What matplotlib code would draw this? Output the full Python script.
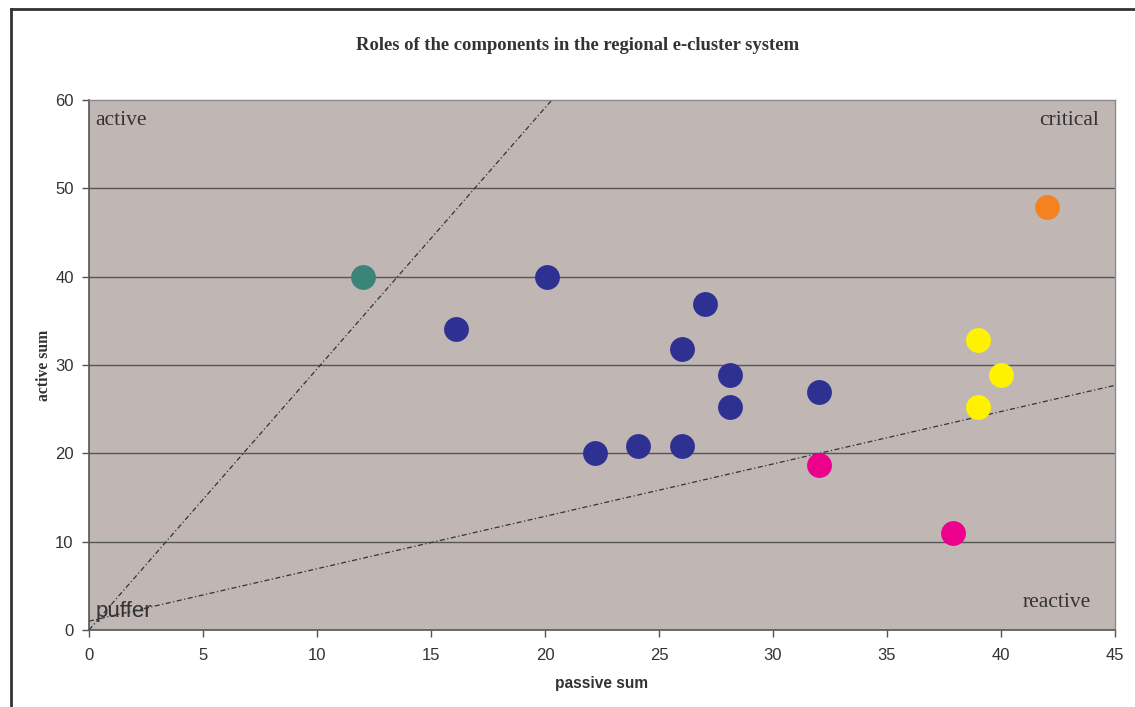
import matplotlib.pyplot as plt
from matplotlib.lines import Line2D

# data
navy_x = [16.1, 20.1, 27.0, 26.0, 28.1, 28.1, 32.0, 22.2, 24.1, 26.0]
navy_y = [34.1, 40.0, 36.9, 31.8, 28.9, 25.3, 26.9, 20.0, 20.8, 20.8]
teal_x = [12.0]
teal_y = [40.0]
pink_x = [32.0, 37.9]
pink_y = [18.7, 11.0]
yellow_x = [39.0, 40.0, 39.0]
yellow_y = [32.8, 28.9, 25.3]
orange_x = [42.0]
orange_y = [47.9]

# separating lines (start / end points)
line_active_x = [0, 20.3]
line_active_y = [0, 60]
line_reactive_x = [0, 45]
line_reactive_y = [1.0, 27.7]

x_ticks = [0, 5, 10, 15, 20, 25, 30, 35, 40, 45]
y_ticks = [0, 10, 20, 30, 40, 50, 60]

TXT = '#333333'
SERIF = 'Liberation Serif'
SANS = 'Liberation Sans'

fig = plt.figure(figsize=(11.35, 7.07), dpi=100)
ax = fig.add_axes([89/1135, 1 - 630/707, (1115 - 89)/1135, (630 - 100)/707])
ax.set_facecolor('#c0b7b4')

for y in y_ticks[1:-1]:
    ax.axhline(y, color='#555555', lw=1.0, zorder=1)

ax.plot(line_active_x, line_active_y, color='#333333', lw=0.9, ls='-.', dashes=(4, 2, 1, 2), zorder=2)
ax.plot(line_reactive_x, line_reactive_y, color='#333333', lw=0.9, ls='-.', dashes=(4, 2, 1, 2), zorder=2)

ms = 320
ax.scatter(navy_x, navy_y, s=ms, color='#2e3192', zorder=3, linewidths=0)
ax.scatter(teal_x, teal_y, s=ms, color='#3b8578', zorder=3, linewidths=0)
ax.scatter(pink_x, pink_y, s=ms, color='#ec008c', zorder=3, linewidths=0)
ax.scatter(yellow_x, yellow_y, s=ms, color='#fff200', zorder=3, linewidths=0)
ax.scatter(orange_x, orange_y, s=ms, color='#f58220', zorder=3, linewidths=0)

ax.set_xlim(0, 45)
ax.set_ylim(0, 60)
ax.set_xticks(x_ticks)
ax.set_yticks(y_ticks)
ax.tick_params(direction='out', length=5, width=1, color='#555555',
               labelsize=12, labelcolor=TXT)
ax.tick_params(axis='x', pad=8)
ax.tick_params(axis='y', pad=6)
for lab in ax.get_xticklabels() + ax.get_yticklabels():
    lab.set_family(SANS)

for side in ['left', 'bottom']:
    ax.spines[side].set_color('#555555')
    ax.spines[side].set_linewidth(1.2)
for side in ['top', 'right']:
    ax.spines[side].set_color('#8a8a8a')
    ax.spines[side].set_linewidth(1.0)

ax.set_xlabel('passive sum', family=SANS, fontweight='bold', fontsize=11.2, color=TXT, labelpad=9)
ax.set_ylabel('active sum', family=SERIF, fontweight='bold', fontsize=11.3, color=TXT, labelpad=2)

# quadrant labels
ax.text(0.006, 0.961, 'active', transform=ax.transAxes, family=SERIF, fontsize=15.5,
        color=TXT, ha='left', va='center')
ax.text(0.984, 0.961, 'critical', transform=ax.transAxes, family=SERIF, fontsize=15.5,
        color=TXT, ha='right', va='center')
ax.text(0.976, 0.051, 'reactive', transform=ax.transAxes, family=SERIF, fontsize=15.5,
        color=TXT, ha='right', va='center')
ax.text(0.006, 0.035, 'puffer', transform=ax.transAxes, family=SANS, fontsize=16,
        color=TXT, ha='left', va='center')

fig.text(0.5085, 1 - 46/707, 'Roles of the components in the regional e-cluster system',
         family=SERIF, fontweight='bold', fontsize=13.4, color=TXT, ha='center', va='center')

# outer frame (only left and top edges are visible)
fig.add_artist(Line2D([11/1135, 11/1135], [0, 1 - 9/707], color='#333333', lw=2))
fig.add_artist(Line2D([11/1135, 1], [1 - 9/707, 1 - 9/707], color='#333333', lw=2))

fig.savefig('out.png', dpi=100)
plt.close(fig)
